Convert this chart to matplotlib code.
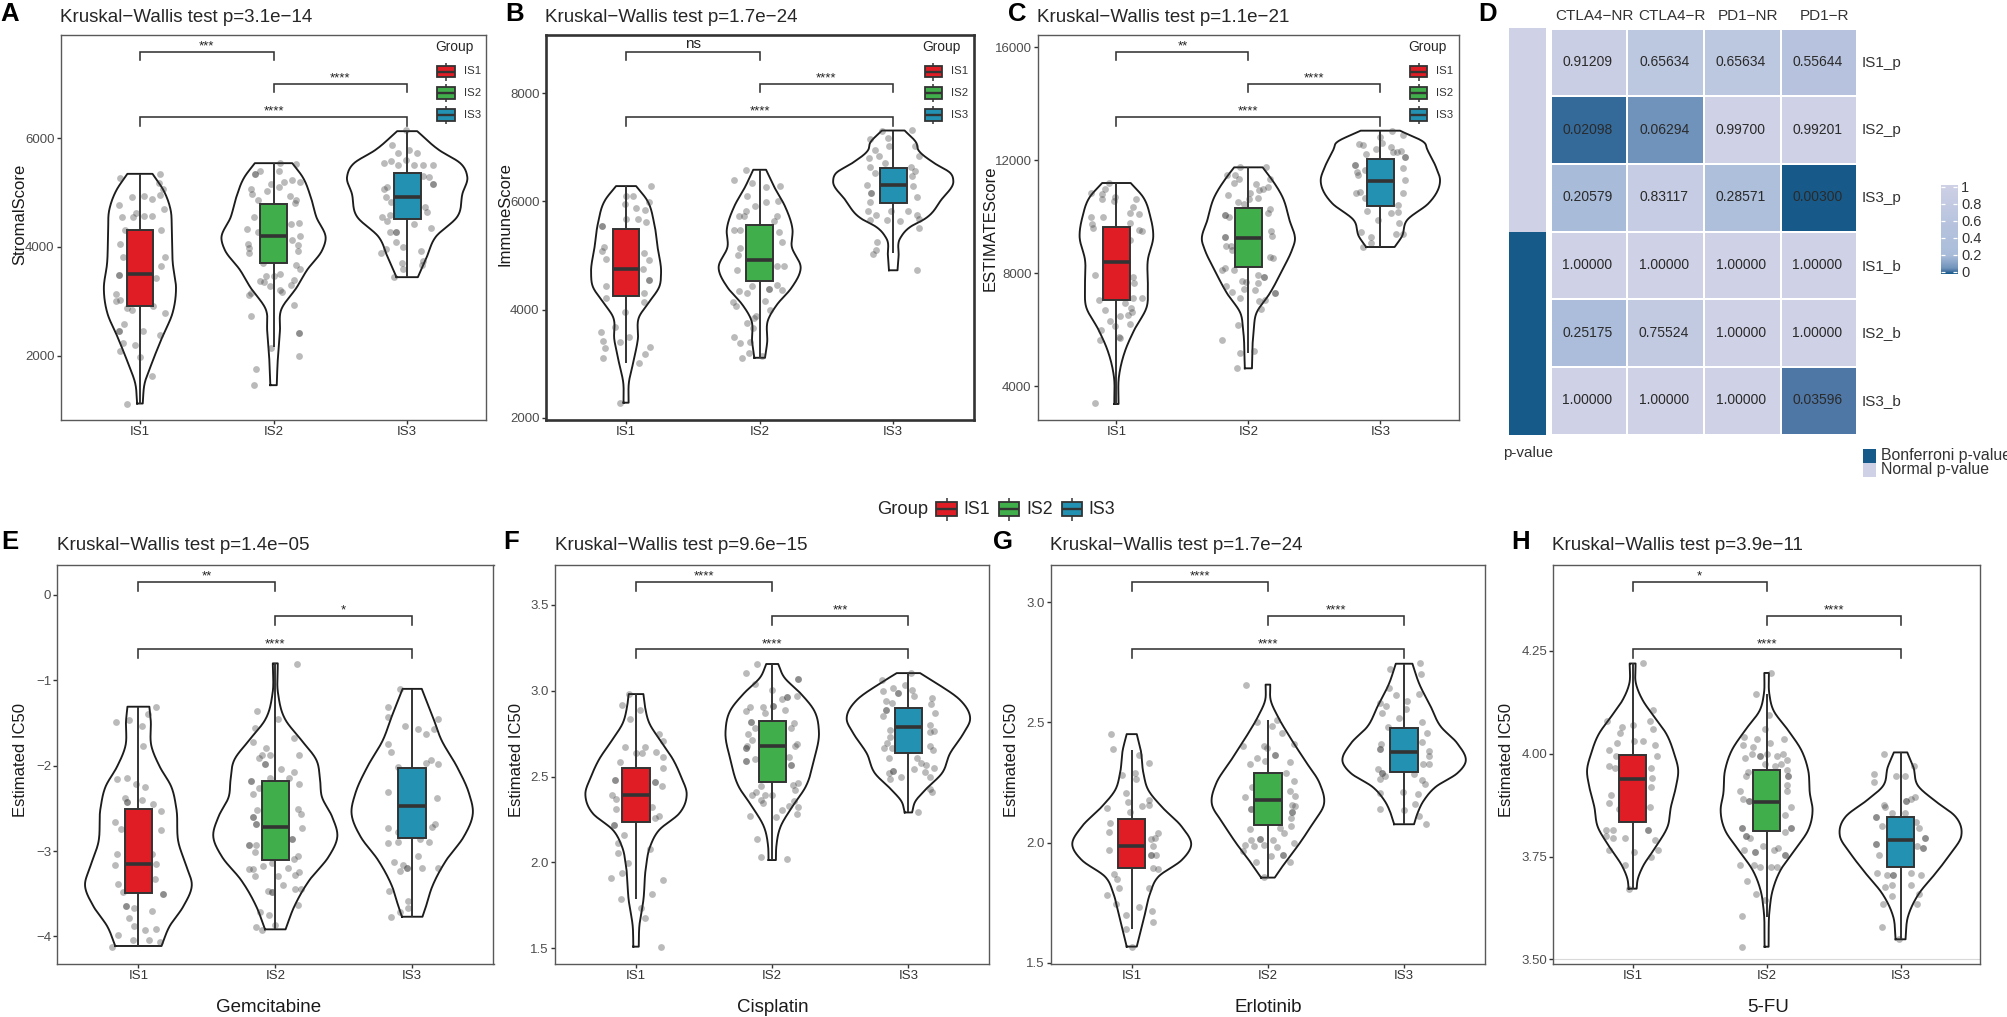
import numpy as np
import matplotlib
matplotlib.use("Agg")
import matplotlib.pyplot as plt
from matplotlib.colors import LinearSegmentedColormap, ListedColormap
from matplotlib.patches import Rectangle
from matplotlib.transforms import blended_transform_factory

plt.rcParams['font.family'] = ['Liberation Sans', 'DejaVu Sans']
W, H = 2008, 1017
GROUPS = ['IS1', 'IS2', 'IS3']
COLORS = ['#e01c24', '#40ae4a', '#2392b2']

# ---- violin outlines: (value, half width) ----
A1_out = [(5342,.094),(5041,.176),(4674,.23),(4306,.238),(3694,.246),(3234,.27),(2775,.243),(2346,.168),(1856,.088),(1488,.035),(1121,.021)]
A2_out = [(5538,.14),(5286,.217),(4919,.278),(4551,.32),(4153,.39),(3939,.364),(3571,.25),(3265,.176),(2836,.056),(2468,.048),(1856,.03),(1458,.024)]
A3_out = [(6126,.075),(5777,.24),(5532,.40),(5286,.45),(4980,.414),(4551,.374),(4184,.214),(3816,.147),(3443,.08)]
B1_out = [(6283,.075),(6031,.155),(5600,.21),(5169,.235),(4677,.262),(4431,.25),(4123,.168),(3877,.10),(3446,.088),(3015,.053),(2646,.021),(2277,.019)]
B2_out = [(6585,.048),(6277,.107),(5908,.19),(5477,.246),(5169,.24),(4769,.307),(4400,.238),(4092,.13),(3815,.064),(3385,.056),(3108,.04)]
B3_out = [(7311,.085),(7077,.174),(6954,.187),(6708,.307),(6523,.428),(6369,.45),(6031,.36),(5662,.227),(5539,.134),(5323,.053),(4985,.04),(4726,.032)]
C1_out = [(11192,.108),(10709,.2),(10001,.257),(9294,.279),(8468,.238),(7525,.238),(6818,.23),(5993,.135),(5285,.068),(4342,.019),(3375,.016)]
C2_out = [(11746,.108),(11416,.162),(10709,.257),(9883,.311),(9152,.352),(8822,.33),(8115,.257),(7289,.162),(6582,.06),(5993,.04),(4637,.027)]
C3_out = [(13043,.149),(12595,.338),(12418,.352),(11770,.42),(11298,.452),(10473,.365),(9883,.203),(9294,.162),(8928,.108)]
E1_out = [(-1.309,.08),(-1.465,.09),(-1.777,.096),(-2.012,.156),(-2.246,.24),(-2.5,.277),(-2.91,.294),(-3.184,.352),(-3.398,.39),(-3.652,.327),(-3.887,.226),(-4.113,.169)]
E2_out = [(-.801,.018),(-1.152,.02),(-1.465,.075),(-1.70,.19),(-1.934,.30),(-2.168,.327),(-2.363,.34),(-2.598,.415),(-2.832,.453),(-3.066,.39),(-3.34,.25),(-3.652,.138),(-3.918,.075)]
E3_out = [(-1.10,.07),(-1.426,.15),(-1.70,.214),(-2.012,.327),(-2.324,.415),(-2.559,.443),(-2.832,.377),(-3.105,.25),(-3.418,.146),(-3.652,.10),(-3.77,.075)]
F1_out = [(2.98,.054),(2.906,.066),(2.81,.098),(2.712,.176),(2.596,.274),(2.50,.33),(2.396,.372),(2.286,.318),(2.189,.17),(2.092,.103),(1.975,.073),(1.781,.054),(1.626,.024),(1.51,.02)]
F2_out = [(3.155,.044),(3.08,.086),(2.984,.208),(2.887,.306),(2.761,.343),(2.596,.306),(2.44,.245),(2.324,.147),(2.208,.061),(2.092,.03),(2.014,.027)]
F3_out = [(3.102,.086),(3.042,.208),(2.945,.38),(2.833,.453),(2.751,.404),(2.635,.306),(2.518,.245),(2.421,.122),(2.354,.05),(2.291,.027)]
G1_out = [(2.451,.037),(2.385,.066),(2.288,.086),(2.218,.122),(2.149,.22),(2.066,.367),(1.988,.436),(1.927,.367),(1.858,.196),(1.788,.135),(1.705,.098),(1.622,.061),(1.567,.037)]
G2_out = [(2.657,.017),(2.593,.02),(2.524,.073),(2.44,.16),(2.343,.27),(2.246,.38),(2.156,.41),(2.08,.33),(1.997,.233),(1.913,.122),(1.854,.05)]
G3_out = [(2.744,.061),(2.662,.11),(2.565,.196),(2.482,.27),(2.413,.39),(2.329,.448),(2.288,.39),(2.232,.233),(2.177,.147),(2.121,.098),(2.076,.073)]
H1_out = [(4.219,.022),(4.17,.025),(4.13,.075),(4.09,.16),(4.049,.25),(4.0,.31),(3.96,.34),(3.919,.323),(3.871,.286),(3.822,.26),(3.774,.174),(3.725,.075),(3.693,.037),(3.672,.03)]
H2_out = [(4.196,.017),(4.146,.02),(4.106,.05),(4.057,.16),(4.008,.26),(3.96,.31),(3.903,.323),(3.863,.343),(3.814,.31),(3.766,.21),(3.717,.104),(3.668,.045),(3.62,.022),(3.531,.015)]
H3_out = [(4.003,.05),(3.968,.095),(3.919,.137),(3.887,.25),(3.847,.41),(3.80,.453),(3.757,.373),(3.709,.26),(3.66,.137),(3.604,.055),(3.549,.037)]

# ---- boxes: whisker low, Q1, median, Q3, whisker high ----
A_box = [(1121,2916,3510,4318,5342),(2162,3706,4196,4796,5538),(3443,4521,4919,5366,6126)]
B_box = [(3015,4252,4757,5489,6283),(3108,4529,4917,5557,6585),(5046,5969,6295,6622,7311)]
C_box = [(3375,7042,8398,9636,11192),(5191,8209,9235,10296,11746),(8928,10378,11263,12053,13043)]
E_box = [(-4.113,-3.496,-3.156,-2.512,-1.309),(-3.918,-3.105,-2.723,-2.184,-.80),(-3.77,-2.852,-2.469,-2.031,-1.10)]
F_box = [(1.79,2.237,2.394,2.55,2.98),(2.014,2.466,2.676,2.821,3.155),(2.291,2.639,2.786,2.899,3.102)]
G_box = [(1.639,1.893,1.985,2.096,2.385),(1.854,2.073,2.178,2.288,2.51),(2.076,2.293,2.376,2.478,2.744)]
H_box = [(3.672,3.835,3.938,3.996,4.219),(3.604,3.813,3.883,3.96,4.146),(3.549,3.725,3.79,3.846,4.003)]

# ---- jittered points: (offset from group centre, value) ----
A1_pts = [(-.10,1121),(.09,1623),(-.15,2089),(-.04,2205),(-.13,2242),(-.16,2450),(-.16,2450),(0,1978),(.02,2456),(.15,2383),(-.12,2585),(.19,2793),(-.06,2836),(-.10,2885),(.10,2916),(-.18,3014),(-.15,3020),(-.18,3130),(-.16,3480),(-.16,3480),(.12,3436),(.155,3645),(.185,3822),(-.125,3822),(-.147,4055),(-.11,4318),(.155,4306),(-.136,4545),(-.05,4545),(.03,4563),(.09,4563),(-.03,4630),(-.16,4778),(.18,4692),(-.06,4919),(.03,4943),(.09,4888),(.147,4950),(.17,5060),(.14,5176),(-.15,5274),(.15,5342)]
A2_pts = [(-.15,1458),(-.13,1764),(-.02,2150),(.19,2420),(.19,2420),(.19,1990),(-.17,2738),(.15,2928),(-.18,3112),(-.17,3155),(.06,3173),(.05,3204),(-.03,3283),(-.07,3345),(-.10,3375),(-.06,3467),(0,3461),(.05,3492),(.15,3400),(.13,3295),(.17,3675),(.2,3596),(-.08,3712),(-.19,4049),(-.185,3970),(-.18,3890),(-.2,4331),(-.12,4276),(-.15,4551),(.14,4135),(.2,4196),(.18,4025),(.18,3920),(.19,4441),(.13,4429),(.16,4809),(.17,4870),(.12,4937),(-.12,4858),(-.16,4980),(-.17,5066),(-.05,5023),(.04,5103),(.08,5195),(-.02,5164),(.14,5237),(.2,5195),(-.14,5348),(-.14,5348),(-.10,5390),(.04,5390),(.05,5544),(.17,5519)]
A3_pts = [(-.10,3443),(-.03,3590),(-.035,3712),(.12,3743),(.11,3663),(.10,3926),(-.195,3884),(-.16,3957),(-.03,4000),(-.085,4092),(-.125,4270),(-.08,4270),(-.08,4270),(.18,4355),(.05,4423),(-.19,4545),(-.15,4472),(-.13,4582),(.15,4643),(.13,4735),(-.12,4833),(-.16,4919),(-.15,5103),(-.17,5072),(.19,5164),(.19,5164),(.16,5286),(.12,5299),(-.17,5532),(-.12,5580),(-.07,5501),(.19,5501),(.115,5501),(.05,5501),(-.01,5593),(-.11,5868),(-.07,5728),(.01,5777),(.07,5728),(-.01,6144)]
B1_pts = [(-.045,2277),(.10,3015),(-.17,3108),(.14,3169),(-.16,3292),(.18,3311),(-.17,3415),(-.045,3397),(.02,3489),(-.185,3582),(-.085,3674),(-.01,3951),(.135,4135),(-.15,4215),(.135,4308),(-.15,4431),(.17,4554),(.17,4554),(.13,4751),(.175,4923),(-.15,4935),(-.18,5077),(-.165,5157),(.135,5046),(-.18,5538),(-.18,5538),(.15,5612),(.09,5674),(0,5674),(.14,5846),(.075,5877),(.175,5988),(-.005,5957),(0,6092),(.055,6092),(.185,6283)]
B2_pts = [(-.135,3108),(-.08,3188),(.015,3138),(-.19,3489),(-.145,3372),(-.07,3397),(-.05,3662),(-.095,3742),(-.04,3846),(-.03,3889),(-.175,4062),(-.2,4135),(.08,4000),(.04,4154),(.17,4369),(.07,4382),(.07,4382),(.13,4462),(-.155,4338),(-.095,4308),(-.06,4431),(-.17,4738),(.185,4800),(.13,4800),(-.165,5003),(-.15,5138),(.17,5243),(-.195,5465),(-.15,5477),(.145,5428),(-.155,5735),(-.12,5723),(-.10,5815),(.13,5735),(.105,5631),(-.035,5920),(.045,5982),(.14,6000),(-.095,6092),(.15,6277),(.045,6265),(-.06,6338),(-.19,6388),(-.10,6572)]
B3_pts = [(.18,4726),(-.15,5034),(-.13,5108),(-.12,5243),(.19,5508),(.05,5631),(-.05,5662),(-.175,5649),(.19,5674),(.175,5754),(.11,5828),(-.13,5754),(-.19,5815),(-.02,5815),(-.175,5982),(-.17,6154),(-.17,6154),(-.2,6295),(.18,6080),(.145,6290),(.14,6462),(.16,6554),(.135,6634),(-.135,6523),(-.175,6628),(-.11,6843),(-.14,6942),(-.18,6800),(-.065,6708),(.19,6831),(.16,7028),(-.175,7157),(-.04,7169),(-.035,7028),(-.085,7311),(.14,7323)]
C1_pts = [(-.165,3400),(.03,5721),(.02,5750),(-.125,5639),(-.115,5993),(.1,6205),(-.01,6146),(-.05,6323),(.025,6500),(.085,6523),(.12,6641),(.11,6759),(-.09,6700),(-.13,7054),(.19,7136),(.125,7113),(.065,6960),(.13,7643),(.125,7855),(-.165,7938),(.105,9176),(.19,9494),(.17,9530),(-.18,9589),(-.185,9730),(-.19,10001),(-.1,9978),(.105,9789),(.105,10119),(.17,10084),(.125,10331),(.145,10626),(-.015,10555),(-.11,10614),(-.11,10803),(-.19,10850),(-.085,10980),(-.055,11204),(-.01,10709)]
C2_pts = [(-.09,4637),(-.06,5167),(.04,5261),(-.2,5651),(-.08,6158),(.095,6723),(.125,7054),(.08,7018),(-.06,7113),(-.125,7348),(-.17,7549),(.2,7289),(.2,7289),(-.03,7431),(.05,7407),(-.05,7737),(-.02,7702),(.07,7667),(.07,7938),(.12,7879),(.12,7879),(-.2,8115),(-.175,8197),(-.11,8115),(.19,8527),(.16,8563),(-.17,8964),(-.135,8964),(-.125,8822),(-.175,9270),(-.175,9270),(.18,9317),(.17,9506),(-.15,10001),(-.18,10060),(-.18,10060),(.16,10272),(.145,10119),(-.08,10508),(-.03,10449),(.005,10626),(.075,10650),(-.155,10768),(.015,10826),(.08,10944),(.15,11062),(.11,10968),(.055,11157),(.16,11333),(-.16,11475),(-.11,11180),(-.07,11333),(-.1,11475),(-.06,11746),(.13,11746)]
C3_pts = [(-.13,8928),(-.07,9058),(-.07,9294),(-.15,9471),(.115,9388),(.17,9376),(.14,9789),(-.02,9883),(.08,10119),(.135,10178),(-.10,10202),(.135,10414),(.17,10850),(-.185,10826),(-.155,10862),(-.115,10650),(.19,11286),(-.17,11475),(-.175,11593),(-.19,11829),(-.19,11829),(.175,11711),(-.115,11652),(.19,12123),(.19,12123),(.16,12323),(.125,12300),(.08,12477),(.095,12277),(-.11,12217),(-.135,12536),(-.16,12571),(-.035,12383),(.015,12618),(0,12807),(.17,12878),(.09,13043)]
E1_pts = [(-.19,-4.12),(.16,-4.07),(-.15,-3.99),(-.04,-4.04),(.075,-4.04),(.045,-3.92),(.13,-3.91),(-.035,-3.875),(-.07,-3.78),(-.035,-3.67),(-.09,-3.65),(-.09,-3.65),(.10,-3.70),(-.11,-3.48),(.18,-3.50),(.18,-3.50),(-.15,-3.39),(.12,-3.33),(-.17,-3.16),(.13,-3.15),(-.16,-3.035),(.10,-3.04),(-.125,-2.74),(-.17,-2.66),(.165,-2.75),(.165,-2.535),(.11,-2.45),(.025,-2.405),(-.085,-2.43),(-.085,-2.43),(-.10,-2.38),(.045,-2.245),(-.02,-2.21),(-.08,-2.14),(-.16,-2.16),(.03,-1.77),(-.165,-1.49),(-.07,-1.47),(.025,-1.54),(.07,-1.39),(.13,-1.31)]
E2_pts = [(-.14,-3.895),(-.10,-3.92),(0,-3.87),(-.11,-3.71),(-.045,-3.75),(.165,-3.63),(-.025,-3.485),(-.025,-3.485),(-.05,-3.47),(.055,-3.40),(.145,-3.44),(.19,-3.44),(-.15,-3.29),(.02,-3.29),(.17,-3.25),(.145,-3.28),(-.195,-3.21),(-.165,-3.21),(-.09,-3.18),(-.025,-3.145),(.095,-3.195),(.165,-3.06),(.14,-3.09),(-.19,-2.93),(-.19,-2.93),(-.14,-2.93),(-.15,-3.01),(.12,-2.86),(.12,-2.86),(.195,-2.73),(-.165,-2.60),(-.165,-2.60),(-.14,-2.68),(-.14,-2.68),(-.13,-2.52),(.165,-2.51),(.19,-2.57),(-.165,-2.335),(-.12,-2.265),(-.175,-2.175),(-.175,-2.175),(.175,-2.215),(.14,-2.07),(.10,-2.15),(-.04,-2.15),(.045,-2.04),(-.075,-1.98),(-.075,-1.98),(-.12,-1.915),(-.095,-1.875),(-.04,-1.88),(-.07,-1.79),(.17,-1.87),(.14,-1.67),(-.165,-1.72),(-.145,-1.56),(.02,-1.455),(-.13,-1.36),(.155,-.81)]
E3_pts = [(-.155,-3.77),(-.09,-3.72),(-.03,-3.67),(-.03,-3.58),(-.17,-3.47),(.19,-3.20),(.075,-3.20),(-.04,-3.195),(-.04,-3.195),(-.09,-3.23),(-.13,-3.125),(-.07,-3.165),(.04,-3.06),(-.175,-2.91),(-.10,-2.90),(.125,-2.90),(.06,-2.86),(-.18,-2.73),(-.105,-2.78),(.145,-2.715),(.17,-2.68),(.18,-2.375),(-.18,-2.305),(.19,-1.985),(.135,-1.93),(.10,-1.97),(-.105,-2.02),(-.155,-1.84),(-.175,-1.745),(.10,-1.63),(.045,-1.575),(.16,-1.57),(-.055,-1.535),(.19,-1.45),(-.18,-1.425),(-.175,-1.31),(-.09,-1.105)]
F1_pts = [(.185,1.51),(.065,1.675),(.035,1.735),(-.11,1.79),(.12,1.815),(.195,1.90),(-.185,1.91),(-.10,1.94),(-.06,1.995),(.10,2.08),(-.13,2.055),(-.135,2.115),(-.085,2.16),(-.165,2.22),(-.165,2.22),(.17,2.27),(.14,2.26),(.115,2.325),(-.15,2.31),(-.18,2.395),(-.145,2.37),(.19,2.445),(.14,2.47),(.14,2.47),(-.155,2.48),(-.155,2.48),(.20,2.55),(-.12,2.585),(.20,2.615),(.145,2.64),(.045,2.635),(0,2.635),(-.08,2.67),(.065,2.67),(.195,2.705),(.165,2.75),(-.045,2.835),(.03,2.885),(-.10,2.915),(-.055,2.98)]
F2_pts = [(-.08,2.03),(.11,2.02),(-.115,2.135),(-.165,2.27),(.025,2.265),(.185,2.28),(.07,2.305),(.19,2.325),(.125,2.33),(.16,2.36),(-.065,2.345),(-.08,2.365),(-.15,2.395),(-.12,2.41),(-.055,2.39),(-.005,2.395),(.165,2.42),(.155,2.45),(.19,2.465),(-.085,2.445),(.135,2.565),(.135,2.565),(-.195,2.59),(-.195,2.59),(-.13,2.605),(.125,2.615),(-.19,2.665),(-.19,2.665),(-.185,2.68),(.185,2.69),(.165,2.675),(-.15,2.715),(-.175,2.75),(-.13,2.78),(.14,2.785),(.16,2.81),(-.155,2.82),(-.155,2.82),(-.055,2.87),(-.19,2.88),(-.165,2.905),(-.065,2.905),(.005,2.91),(.005,2.91),(.095,2.885),(.07,2.95),(.105,2.965),(.105,2.965),(.185,2.97),(-.005,3.005),(.19,3.07),(.19,3.07),(-.13,3.04),(-.19,3.10),(-.11,3.155)]
F3_pts = [(.07,2.295),(.17,2.41),(.16,2.43),(.16,2.50),(-.135,2.485),(-.055,2.50),(-.145,2.52),(-.11,2.53),(-.11,2.53),(.04,2.545),(.12,2.525),(.19,2.55),(.13,2.565),(.09,2.58),(.06,2.61),(-.145,2.61),(.18,2.655),(.16,2.68),(-.18,2.665),(-.12,2.665),(-.16,2.695),(-.135,2.73),(-.135,2.77),(.185,2.765),(.155,2.76),(.155,2.80),(.195,2.87),(-.185,2.855),(-.165,2.885),(-.165,2.885),(.165,2.92),(.17,2.955),(-.165,2.94),(-.12,2.93),(-.19,3.0),(-.11,3.015),(-.08,2.985),(-.08,2.985),(-.025,3.035),(.03,3.005),(.04,2.97),(-.195,3.06),(.02,3.105)]
G1_pts = [(0,1.565),(-.04,1.64),(.155,1.67),(-.04,1.70),(.05,1.73),(.15,1.715),(-.185,1.78),(-.115,1.745),(.13,1.81),(-.095,1.81),(-.105,1.85),(-.13,1.87),(.19,1.89),(.155,1.895),(.18,1.95),(.14,1.95),(.14,1.95),(-.17,1.97),(.155,1.985),(.14,2.015),(.17,2.02),(.19,2.04),(-.165,2.045),(-.16,2.08),(-.18,2.145),(.075,2.15),(.125,2.155),(.125,2.175),(-.025,2.17),(-.01,2.125),(-.045,2.205),(.035,2.265),(.025,2.29),(-.075,2.28),(.125,2.33),(.05,2.365),(-.14,2.39),(-.15,2.45)]
G2_pts = [(-.03,1.855),(-.09,1.92),(.165,1.92),(.02,1.945),(.11,1.95),(.11,1.95),(-.185,1.965),(-.17,1.99),(-.105,1.985),(-.03,1.99),(.065,1.98),(.19,2.0),(-.125,2.01),(-.055,2.015),(-.055,2.015),(.04,2.01),(.12,2.04),(-.135,2.055),(.09,2.06),(.17,2.07),(.17,2.10),(.18,2.125),(.18,2.125),(.20,2.15),(.175,2.155),(-.125,2.14),(-.125,2.14),(-.17,2.19),(.2,2.195),(.16,2.215),(.19,2.255),(-.115,2.23),(.135,2.29),(-.135,2.325),(.16,2.335),(-.025,2.34),(-.08,2.35),(.055,2.365),(.055,2.365),(-.01,2.395),(-.03,2.40),(.195,2.41),(-.18,2.40),(.10,2.455),(.03,2.485),(-.08,2.50),(.065,2.51),(-.16,2.655)]
G3_pts = [(.16,2.075),(.11,2.11),(0,2.135),(-.175,2.14),(.08,2.16),(.105,2.20),(-.175,2.205),(-.005,2.21),(.155,2.245),(.13,2.26),(-.18,2.265),(-.14,2.275),(-.165,2.29),(-.165,2.29),(-.19,2.305),(.07,2.285),(.18,2.325),(.14,2.325),(.185,2.36),(.18,2.38),(-.175,2.39),(-.175,2.39),(-.17,2.41),(.135,2.42),(.165,2.455),(.135,2.50),(-.12,2.48),(-.035,2.52),(-.165,2.54),(.015,2.555),(-.13,2.57),(-.175,2.58),(.02,2.59),(-.06,2.615),(.11,2.62),(-.11,2.645),(.125,2.70),(-.10,2.72),(.115,2.745)]
H1_pts = [(-.025,3.672),(-.055,3.73),(.135,3.75),(.19,3.765),(-.175,3.765),(.01,3.76),(.17,3.79),(-.06,3.795),(-.15,3.795),(-.2,3.80),(-.195,3.815),(-.15,3.815),(.115,3.815),(.115,3.815),(-.105,3.865),(.13,3.87),(-.18,3.88),(-.165,3.90),(.14,3.92),(.145,3.94),(-.18,3.97),(-.13,3.965),(.14,3.965),(.18,3.995),(-.125,3.995),(-.175,4.01),(-.115,4.025),(.165,4.02),(.08,4.03),(.01,4.03),(.15,4.06),(-.095,4.05),(-.08,4.065),(0,4.07),(.13,4.08),(-.19,4.08),(.15,4.105),(.08,4.22)]
H2_pts = [(-.18,3.53),(-.185,3.605),(-.01,3.645),(-.08,3.66),(-.145,3.69),(-.195,3.73),(-.095,3.73),(-.05,3.725),(.03,3.725),(.08,3.725),(.14,3.755),(.14,3.755),(-.085,3.76),(-.085,3.76),(-.17,3.765),(.055,3.765),(.085,3.77),(-.025,3.775),(.185,3.82),(.185,3.82),(-.185,3.82),(-.185,3.82),(.135,3.81),(-.155,3.80),(-.155,3.80),(-.125,3.795),(.14,3.85),(.185,3.87),(-.135,3.885),(-.135,3.885),(-.175,3.89),(-.195,3.91),(.155,3.91),(.15,3.925),(-.155,3.945),(.16,3.945),(.16,3.945),(-.14,3.955),(.155,3.96),(.11,3.975),(.06,3.97),(-.01,3.975),(.15,3.985),(-.16,3.99),(-.11,4.0),(-.05,3.995),(-.05,3.995),(.125,4.0),(.08,3.995),(0,4.0),(-.175,4.02),(-.10,4.015),(.025,4.025),(-.075,4.035),(-.17,4.04),(.13,4.035),(-.01,4.06),(.02,4.095),(-.08,4.145),(.035,4.195)]
H3_pts = [(-.01,3.55),(-.135,3.58),(-.13,3.635),(.125,3.635),(.14,3.66),(-.065,3.655),(-.115,3.675),(-.065,3.68),(.08,3.68),(.155,3.705),(.075,3.71),(-.175,3.71),(-.105,3.705),(-.06,3.705),(-.06,3.705),(-.16,3.755),(.17,3.77),(.17,3.77),(.12,3.775),(-.18,3.78),(-.18,3.78),(.18,3.795),(.18,3.795),(.14,3.82),(-.14,3.825),(-.18,3.845),(-.18,3.845),(.115,3.835),(.035,3.855),(-.115,3.87),(-.065,3.855),(-.125,3.875),(.04,3.885),(.04,3.885),(.11,3.895),(.08,3.89),(-.195,3.93),(-.2,3.95),(-.035,3.945),(.035,3.945),(.10,3.97),(-.125,4.0)]

# ---- heatmap ----
HM_COLS = ['CTLA4\u2212NR', 'CTLA4\u2212R', 'PD1\u2212NR', 'PD1\u2212R']
HM_ROWS = ['IS1_p', 'IS2_p', 'IS3_p', 'IS1_b', 'IS2_b', 'IS3_b']
HM_VALS = [[0.91209, 0.65634, 0.65634, 0.55644],
           [0.02098, 0.06294, 0.99700, 0.99201],
           [0.20579, 0.83117, 0.28571, 0.00300],
           [1.0, 1.0, 1.0, 1.0],
           [0.25175, 0.75524, 1.0, 1.0],
           [1.0, 1.0, 1.0, 0.03596]]
HM_ANNOT = [0, 0, 0, 1, 1, 1]

fig = plt.figure(figsize=(W / 100, H / 100), dpi=100, facecolor='white')
def add_ax(l, t, r, b, **kw):
    return fig.add_axes([l / W, 1 - b / H, (r - l) / W, (b - t) / H], **kw)

# overlay in pixel units for titles, panel letters and legends
ov = add_ax(0, 0, W, H, zorder=10)
ov.set_xlim(0, W); ov.set_ylim(H, 0); ov.axis('off'); ov.patch.set_alpha(0)

def key(x0, x1, yc, hb, hw, color):
    xm = (x0 + x1) / 2
    ov.plot([xm, xm], [yc - hw, yc + hw], color='#333333', lw=1.1, solid_capstyle='butt')
    ov.add_patch(Rectangle((x0, yc - hb), x1 - x0, 2 * hb, fc=color, ec='#333333', lw=1.3, zorder=3))
    ov.plot([x0, x1], [yc, yc], color='#333333', lw=1.7, solid_capstyle='butt', zorder=4)

def smooth_outline(out):
    v = np.array([p[0] for p in out], float)[::-1]
    w = np.array([p[1] for p in out], float)[::-1]
    m = np.gradient(w, v)
    vv, ww = [], []
    for i in range(len(v) - 1):
        t = np.linspace(0, 1, 25)
        h = v[i + 1] - v[i]
        ww.append((2*t**3 - 3*t**2 + 1) * w[i] + (t**3 - 2*t**2 + t) * h * m[i]
                  + (-2*t**3 + 3*t**2) * w[i + 1] + (t**3 - t**2) * h * m[i + 1])
        vv.append(v[i] + t * h)
    return np.concatenate(vv), np.clip(np.concatenate(ww), 0.01, None)

def panel(rect, ylim, yticks, yticklabels, ylabel, ylabel_x, ylabel_y, outs, pts, boxes, stars, title,
          title_x, title_y, letter, letter_xy, xlim_pad, legend=False, border='#595959', blw=1.0,
          xlabel=None, xlabel_x=None, br=(.956, .872, .786)):
    l, t, r, b = rect
    ax = add_ax(l, t, r, b)
    ax.set_xlim(1 - xlim_pad[0], 3 + xlim_pad[1]); ax.set_ylim(*ylim)
    for i in range(3):
        x = i + 1
        vv, ww = smooth_outline(outs[i])
        ax.plot(np.r_[x - ww, (x + ww)[::-1], x - ww[0]], np.r_[vv, vv[::-1], vv[0]],
                color='#1c1c1c', lw=1.35, zorder=2, solid_joinstyle='round')
        lo, q1, med, q3, hi = boxes[i]
        ax.vlines(x, lo, hi, color='#333333', lw=1.4, zorder=2.5)
        p = np.array(pts[i], float)
        ax.scatter(x + p[:, 0], p[:, 1], s=24, color='#3a3a3a', alpha=0.35, lw=0, zorder=3)
        ax.bar(x, q3 - q1, bottom=q1, width=0.2, color=COLORS[i], edgecolor='#333333', lw=1.4, zorder=4)
        ax.hlines(med, x - 0.1, x + 0.1, color='#333333', lw=2.6, zorder=5)
    trans = blended_transform_factory(ax.transData, ax.transAxes)
    spans = [(1, 2), (2, 3), (1, 3)]
    for (a, c), yb, s in zip(spans, br, stars):
        ax.plot([a, a, c, c], [yb - .022, yb, yb, yb - .022], transform=trans, color='#333333',
                lw=1.15, clip_on=False, zorder=6, solid_joinstyle='miter')
        ns = s == 'ns'
        ax.annotate(s, xy=((a + c) / 2, yb), xycoords=trans, xytext=(0, 2.8 if ns else 1.6), textcoords='offset points',
                    ha='center', va='baseline', fontsize=11 if ns else 9.5, color='#222222')
    ax.set_xticks([1, 2, 3]); ax.set_xticklabels(GROUPS)
    ax.set_yticks(yticks); ax.set_yticklabels(yticklabels)
    ax.tick_params(axis='x', length=3, width=1, color='#333333', labelsize=9.5, labelcolor='#333333', pad=1.5)
    ax.tick_params(axis='y', length=3, width=1, color='#333333', labelsize=9.5, labelcolor='#4d4d4d', pad=1.5)
    for s in ax.spines.values():
        s.set_color(border); s.set_linewidth(blw)
    ov.text(ylabel_x, ylabel_y, ylabel, rotation=90, ha='center', va='center', fontsize=12, color='#1a1a1a')
    ov.text(title_x, title_y, title, ha='left', va='center', fontsize=13.5, color='#262626')
    ov.text(letter_xy[0], letter_xy[1], letter, ha='left', va='center', fontsize=18.5, fontweight='bold', color='black')
    if xlabel:
        ov.text(xlabel_x, 1007, xlabel, ha='center', va='center', fontsize=13.5, color='#1a1a1a')
    if legend:
        ov.text(r - 51, 47, 'Group', ha='left', va='center', fontsize=9.9, color='#262626')
        for i, yc in enumerate((71.5, 93, 115)):
            key(r - 49, r - 31.5, yc, 5.8, 9, COLORS[i])
            ov.text(r - 22.5, yc, GROUPS[i], ha='left', va='center', fontsize=8.2, color='#333333')

TOP = (34.7, 420); BOT = (564.7, 964)
panel((60.7, TOP[0], 486.4, TOP[1]), (818, 7899), [2000, 4000, 6000], ['2000', '4000', '6000'], 'StromalScore', 19.6, 214,
      [A1_out, A2_out, A3_out], [A1_pts, A2_pts, A3_pts], A_box, ['***', '****', '****'],
      'Kruskal\u2212Wallis test p=3.1e\u221214', 60, 17, 'A', (0, 14), (.593, .593), legend=True)
panel((545.7, TOP[0], 973.6, TOP[1]), (1957, 9083), [2000, 4000, 6000, 8000], ['2000', '4000', '6000', '8000'], 'ImmuneScore', 505, 214,
      [B1_out, B2_out, B3_out], [B1_pts, B2_pts, B3_pts], B_box, ['ns', '****', '****'],
      'Kruskal\u2212Wallis test p=1.7e\u221224', 545, 17, 'B', (505, 14), (.6016, .6016), legend=True, border='#333333', blw=1.9)
panel((1037.9, TOP[0], 1458.9, TOP[1]), (2809, 16438), [4000, 8000, 12000, 16000], ['4000', '8000', '12000', '16000'], 'ESTIMATEScore', 990, 228,
      [C1_out, C2_out, C3_out], [C1_pts, C2_pts, C3_pts], C_box, ['**', '****', '****'],
      'Kruskal\u2212Wallis test p=1.1e\u221221', 1037, 17, 'C', (1008, 14), (.595, .595), legend=True)
bb = (.9566, .872, .788)
panel((57.5, BOT[0], 493.5, BOT[1]), (-4.324, .355), [-4, -3, -2, -1, 0], ['\u22124', '\u22123', '\u22122', '\u22121', '0'], 'Estimated IC50', 20.7, 760,
      [E1_out, E2_out, E3_out], [E1_pts, E2_pts, E3_pts], E_box, ['**', '*', '****'],
      'Kruskal\u2212Wallis test p=1.4e\u221205', 57, 545, 'E', (1, 542), (.591, .594), xlabel='Gemcitabine', xlabel_x=269, br=bb)
panel((555, BOT[0], 989.3, BOT[1]), (1.409, 3.733), [1.5, 2, 2.5, 3, 3.5], ['1.5', '2.0', '2.5', '3.0', '3.5'], 'Estimated IC50', 517, 760,
      [F1_out, F2_out, F3_out], [F1_pts, F2_pts, F3_pts], F_box, ['****', '***', '****'],
      'Kruskal\u2212Wallis test p=9.6e\u221215', 555, 545, 'F', (503, 542), (.595, .594), xlabel='Cisplatin', xlabel_x=773, br=bb)
panel((1050.7, BOT[0], 1485, BOT[1]), (1.4945, 3.156), [1.5, 2, 2.5, 3], ['1.5', '2.0', '2.5', '3.0'], 'Estimated IC50', 1012, 760,
      [G1_out, G2_out, G3_out], [G1_pts, G2_pts, G3_pts], G_box, ['****', '****', '****'],
      'Kruskal\u2212Wallis test p=1.7e\u221224', 1050, 545, 'G', (993, 542), (.595, .594), xlabel='Erlotinib', xlabel_x=1268, br=bb)
panel((1553.3, BOT[0], 1980.3, BOT[1]), (3.489, 4.459), [3.5, 3.75, 4, 4.25], ['3.50', '3.75', '4.00', '4.25'], 'Estimated IC50', 1507, 760,
      [H1_out, H2_out, H3_out], [H1_pts, H2_pts, H3_pts], H_box, ['*', '****', '****'],
      'Kruskal\u2212Wallis test p=3.9e\u221211', 1552, 545, 'H', (1511, 542), (.592, .595), xlabel='5-FU', xlabel_x=1768, br=bb)
fig.axes[-1].axhline(3.5, color='#d9d9d9', lw=0.8, zorder=1)

# common legend of the lower row
ov.text(877, 509, 'Group', ha='left', va='center', fontsize=13.2, color='#262626')
for i, (x0, tx) in enumerate(zip((936.5, 999, 1062), (963, 1026, 1088))):
    key(x0, x0 + 20.5, 509, 6.6, 11.5, COLORS[i])
    ov.text(tx, 509, GROUPS[i], ha='left', va='center', fontsize=12.8, color='#262626')

# ---- panel D ----
nodes = [(0, '#165a8a'), (0.003, '#175a8a'), (0.021, '#356a9a'), (0.036, '#4f78a6'), (0.063, '#7093bb'),
         (0.2, '#a8bbd9'), (0.29, '#adbfdb'), (0.55, '#b7c3de'), (0.65, '#bcc7e0'), (0.83, '#c6cce3'), (1, '#cfd1e6')]
hm_cmap = LinearSegmentedColormap.from_list('pv', nodes, N=1024)
hm = add_ax(1550.7, 28.7, 1857.4, 434.7)
vals = np.array(HM_VALS)
hm.pcolormesh(vals, cmap=hm_cmap, vmin=0, vmax=1, edgecolors='white', linewidth=1.1)
hm.set_xlim(0, 4); hm.set_ylim(6, 0); hm.axis('off')
for r_, row in enumerate(HM_VALS):
    for c_, v in enumerate(row):
        hm.text(c_ + .48, r_ + .49, f'{v:.5f}', ha='center', va='center', fontsize=10, color='#2a2a2a')
    hm.text(4.06, r_ + .5, HM_ROWS[r_], ha='left', va='center', fontsize=11, color='#333333', clip_on=False)
for c_, name in enumerate(HM_COLS):
    hm.text(c_ + .575, -.19, name, ha='center', va='center', fontsize=11, color='#333333', clip_on=False)

an = add_ax(1509, 28.3, 1546.3, 435)
an.pcolormesh(np.array(HM_ANNOT)[:, None], cmap=ListedColormap(['#cfd1e6', '#165a8a']), vmin=0, vmax=1)
an.set_ylim(6, 0); an.axis('off')
ov.text(1528.5, 453, 'p-value', ha='center', va='center', fontsize=11, color='#333333')
for name, col, y0 in (('Bonferroni p-value', '#165a8a', 449), ('Normal p-value', '#cfd1e6', 463)):
    ov.add_patch(Rectangle((1862.8, y0), 12.8, 13.5, fc=col, ec='none'))
    ov.text(1880.7, y0 + 6.3, name, ha='left', va='center', fontsize=11.4, color='#333333')

cb = add_ax(1940.6, 184.5, 1956.8, 274.5)
cb.imshow(np.linspace(1, 0, 256)[:, None], cmap=hm_cmap, vmin=0, vmax=1, aspect='auto', extent=(0, 1, -0.03, 1.025))
cb.set_xticks([])
cb.set_yticks([0, .2, .4, .6, .8, 1]); cb.set_yticklabels(['0', '0.2', '0.4', '0.6', '0.8', '1'])
cb.yaxis.tick_right()
cb.tick_params(axis='y', direction='in', length=3, width=0.9, color='white', right=True, left=True,
               labelsize=10.5, labelcolor='#333333', pad=3)
for s in cb.spines.values():
    s.set_visible(False)
ov.text(1478, 14, 'D', ha='left', va='center', fontsize=18.5, fontweight='bold', color='black')

fig.savefig('out.png', dpi=100)
